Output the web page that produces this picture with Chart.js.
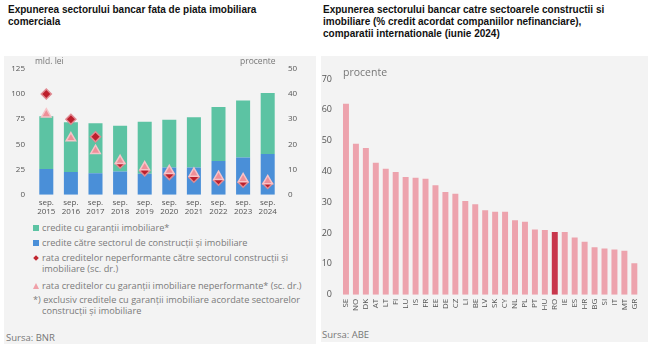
<!DOCTYPE html>
<html lang="ro">
<head>
<meta charset="UTF-8" />
<title>Expunerea sectorului bancar</title>
<script src="https://cdn.jsdelivr.net/npm/chart.js"></script>
<style>
  body { margin: 0; width: 648px; height: 351px; background: #fff; position: relative; overflow: hidden;
         font-family: "Open Sans", sans-serif; }
  .title { position: absolute; font-family: "Liberation Sans", Arial, sans-serif; font-weight: bold;
           font-size: 10px; line-height: 12px; color: #111; }
  .panel { position: absolute; background: #f3f3f3; }
  .note { position: absolute; font-size: 9.5px; color: #777; }
  #legend { position: absolute; left: 33px; top: 222px; width: 272px; font-size: 9.2px; line-height: 11px; color: #7a7a7a; }
  .li { position: relative; padding-left: 9px; margin-bottom: 4px; }
  .mk { position: absolute; left: 0; top: 3px; width: 6px; height: 6px; }
  .foot { padding-left: 9px; text-indent: -9px; margin-top: 4px; line-height: 10.5px; }
</style>
</head>
<body>
<div class="title" style="left:8px;top:4px;">Expunerea sectorului bancar fata de piata imobiliara<br>comerciala</div>
<div class="title" style="left:323px;top:4px;">Expunerea sectorului bancar catre sectoarele constructii si<br>imobiliare (% credit acordat companiilor nefinanciare),<br>comparatii internationale (iunie 2024)</div>

<div class="panel" style="left:4px;top:56px;width:312px;height:288px;"></div>
<div class="panel" style="left:321px;top:56px;width:327px;height:286px;"></div>

<canvas id="c1" style="position:absolute;left:0;top:55px;" width="318" height="165"></canvas>
<canvas id="c2" style="position:absolute;left:320px;top:55px;" width="328" height="260"></canvas>

<div class="note" style="left:35px;top:55px;font-size:8.5px;">mld. lei</div>
<div class="note" style="left:240px;top:55px;font-size:8.5px;">procente</div>
<div class="note" style="left:343px;top:65px;font-size:10.5px;">procente</div>

<div id="legend">
  <div class="li"><span class="mk" style="background:#5cc3a3"></span>credite cu garanţii imobiliare*</div>
  <div class="li"><span class="mk" style="background:#4a8fd8"></span>credite către sectorul de construcţii şi imobiliare</div>
  <div class="li" style="margin-bottom:6px"><span class="mk" style="background:#c0262f;width:4px;height:4px;left:1px;top:4px;transform:rotate(45deg)"></span>rata creditelor neperformante către sectorul construcţii şi imobiliare (sc. dr.)</div>
  <div class="li"><span class="mk" style="width:0;height:0;background:none;border-left:3px solid transparent;border-right:3px solid transparent;border-bottom:6px solid #f0a0a8"></span>rata creditelor cu garanţii imobiliare neperformante* (sc. dr.)</div>
  <div class="foot">*) exclusiv creditele cu garanţii imobiliare acordate sectoarelor construcţii şi imobiliare</div>
</div>
<div class="note" style="left:6px;top:331px;">Sursa: BNR</div>
<div class="note" style="left:322px;top:328px;">Sursa: ABE</div>

<script>
// left chart data
const years = [["sep.", "2015"], ["sep.", "2016"], ["sep.", "2017"], ["sep.", "2018"], ["sep.", "2019"],
               ["sep.", "2020"], ["sep.", "2021"], ["sep.", "2022"], ["sep.", "2023"], ["sep.", "2024"]];
const constructionLoans = [25.5, 22.5, 21.5, 23, 21, 27, 27, 33.5, 37, 40.5];
const collateralLoans = [52.5, 49.5, 49.5, 45.5, 51.5, 47.5, 50, 53.5, 56.5, 60.5];
const nplConstruction = [40, 30, 23, 12.5, 9.5, 8, 7, 5.8, 5, 4.5];
const nplCollateral = [32, 22.5, 17.5, 13.5, 11, 9.5, 8.5, 7.2, 6.3, 5.5];

// right chart data
const countries = ["SE", "NO", "DK", "AT", "LT", "FI", "LU", "IS", "FR", "EE", "DE", "CZ", "LI", "BE", "LV",
                   "SK", "CY", "NL", "PL", "PT", "HU", "RO", "IE", "ES", "HR", "BG", "SI", "IT", "MT", "GR"];
const shares = [62, 49, 47.6, 42.8, 40.9, 39.8, 38.2, 38, 37.6, 35.5, 33.3, 32.8, 30.4, 29.4, 27.4,
                26.9, 26.9, 24.2, 23.7, 21.2, 21, 20.4, 20.4, 18.6, 17.2, 15.4, 15, 14.7, 14.3, 10.2];

const tickFont = { family: "Open Sans", size: 8 };
const noGrid = { display: false, drawTicks: false };

new Chart(document.getElementById("c1"), {
  type: "bar",
  data: {
    labels: years,
    datasets: [
      { label: "npl2", type: "line", data: nplCollateral, yAxisID: "y1", showLine: false, order: 0,
        pointStyle: "triangle", pointRadius: 5.5, backgroundColor: "#ef8f98", borderColor: "#f6c3c8", borderWidth: 1.5 },
      { label: "npl1", type: "line", data: nplConstruction, yAxisID: "y1", showLine: false, order: 1,
        pointStyle: "rectRot", pointRadius: 5, backgroundColor: "#bd1f2c", borderColor: "#e08a92", borderWidth: 1.5 },
      { label: "constr", data: constructionLoans, backgroundColor: "#4a8fd8", yAxisID: "y", order: 3,
        barPercentage: 0.57, categoryPercentage: 1 },
      { label: "garantii", data: collateralLoans, backgroundColor: "#5cc3a3", yAxisID: "y", order: 3,
        barPercentage: 0.57, categoryPercentage: 1 }
    ]
  },
  options: {
    responsive: false,
    animation: false,
    layout: { padding: { top: 6, bottom: 0 } },
    plugins: { legend: { display: false }, tooltip: { enabled: false } },
    scales: {
      x: { stacked: true, grid: noGrid, border: { display: false },
           ticks: { font: tickFont, color: "#555", maxRotation: 0, autoSkip: false, padding: 3 } },
      y: { stacked: true, min: 0, max: 125, position: "left",
           grid: noGrid, border: { display: false },
           ticks: { stepSize: 25, font: tickFont, color: "#555", padding: 9 },
           afterFit: (s) => { s.width = 34; } },
      y1: { min: 0, max: 50, position: "right",
            grid: noGrid, border: { display: false },
            ticks: { stepSize: 10, font: tickFont, color: "#555", padding: 8 },
            afterFit: (s) => { s.width = 38; } }
    }
  }
});

new Chart(document.getElementById("c2"), {
  type: "bar",
  data: {
    labels: countries,
    datasets: [{
      data: shares,
      backgroundColor: countries.map((c) => (c === "RO" ? "#c8374c" : "#eda3ad")),
      barPercentage: 0.6, categoryPercentage: 1
    }]
  },
  options: {
    responsive: false,
    animation: false,
    layout: { padding: { top: 24, right: 4 } },
    plugins: { legend: { display: false }, tooltip: { enabled: false } },
    scales: {
      x: { grid: noGrid, border: { display: false },
           ticks: { font: { family: "Open Sans", size: 8 }, color: "#555", minRotation: 90, maxRotation: 90,
                    autoSkip: false, padding: 4 } },
      y: { min: 0, max: 70, grid: noGrid, border: { display: false },
           ticks: { stepSize: 10, font: { family: "Open Sans", size: 9 }, color: "#555", padding: 9 },
           afterFit: (s) => { s.width = 21; } }
    }
  }
});
</script>
</body>
</html>
